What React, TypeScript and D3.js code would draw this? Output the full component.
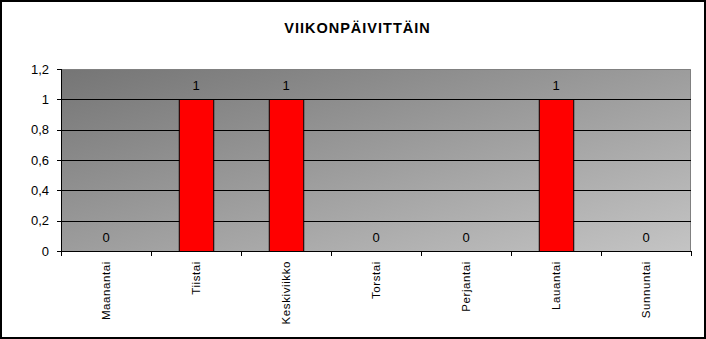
import React from "react";
import * as d3 from "d3";

const title = "VIIKONPÄIVITTÄIN";
const categories = ["Maanantai", "Tiistai", "Keskiviikko", "Torstai", "Perjantai", "Lauantai", "Sunnuntai"];
const values = [0, 1, 1, 0, 0, 1, 0];
const yTicks = [0, 0.2, 0.4, 0.6, 0.8, 1, 1.2];

const W = 706;
const H = 339;
const left = 61;
const right = 691;
const top = 69;
const bottom = 251;

export default function App() {
  const x = d3.scaleBand<string>().domain(categories).range([left, right]).paddingInner(0).paddingOuter(0);
  const y = d3.scaleLinear().domain([0, 1.2]).range([bottom, top]);
  const bw = x.bandwidth() * 0.383;
  const fmt = (v: number) => String(+v.toFixed(1)).replace(".", ",");
  const font = "Arial, 'Liberation Sans', sans-serif";
  const boundaries = categories.map((c) => x(c)!).concat([right]);

  return (
    <svg width={W} height={H} style={{ position: "absolute", left: 0, top: 0, display: "block" }} fontFamily={font}>
      <defs>
        <linearGradient id="bg" x1="0" y1="0" x2="1" y2="1">
          <stop offset="0" stopColor="#757575" />
          <stop offset="1" stopColor="#c4c4c4" />
        </linearGradient>
      </defs>
      <rect x={0} y={0} width={W} height={H} fill="#fff" />
      <rect x={1} y={1} width={W - 2} height={H - 2} fill="none" stroke="#000" strokeWidth={2} />
      <text x={357.5} y={33} textAnchor="middle" fontSize={14.5} fontWeight="bold" letterSpacing={1}>{title}</text>

      <rect x={left} y={top} width={right - left} height={bottom - top} fill="url(#bg)" />
      <path d={`M${left},${top + 0.5}H${right - 0.5}V${bottom}`} fill="none" stroke="#808080" strokeWidth={1} />

      {yTicks.filter((t) => t > 0 && t < 1.2).map((t) => (
        <line key={t} x1={left} x2={right} y1={Math.round(y(t)) + 0.5} y2={Math.round(y(t)) + 0.5} stroke="#000" />
      ))}

      {categories.map((c, i) => (
        <rect key={c} x={x(c)! + (x.bandwidth() - bw) / 2 + 0.5} y={Math.round(y(values[i])) + 0.5}
          width={bw} height={bottom - Math.round(y(values[i]))} fill="#ff0000" stroke="#000" strokeWidth={1}
          style={{ display: values[i] > 0 ? undefined : "none" }} />
      ))}

      <line x1={left + 0.5} x2={left + 0.5} y1={top} y2={bottom + 1} stroke="#000" />
      <line x1={left} x2={right} y1={bottom + 0.5} y2={bottom + 0.5} stroke="#000" />

      {yTicks.map((t) => (
        <g key={t}>
          <line x1={left - 4} x2={left} y1={Math.round(y(t)) + 0.5} y2={Math.round(y(t)) + 0.5} stroke="#000" />
          <text x={49} y={y(t) + 4.5} textAnchor="end" fontSize={13}>{fmt(t)}</text>
        </g>
      ))}

      {boundaries.map((b, i) => (
        <line key={i} x1={Math.round(b) + 0.5} x2={Math.round(b) + 0.5} y1={bottom} y2={bottom + 5} stroke="#000" />
      ))}

      {categories.map((c, i) => (
        <text key={"v" + c} x={x(c)! + x.bandwidth() / 2} y={y(values[i]) - 9.5} textAnchor="middle" fontSize={13}>
          {values[i]}
        </text>
      ))}

      {categories.map((c) => (
        <text key={"l" + c} transform={`translate(${x(c)! + x.bandwidth() / 2 + 4},${bottom + 10}) rotate(-90)`}
          textAnchor="end" fontSize={11.5} letterSpacing={0.6}>
          {c}
        </text>
      ))}
    </svg>
  );
}
